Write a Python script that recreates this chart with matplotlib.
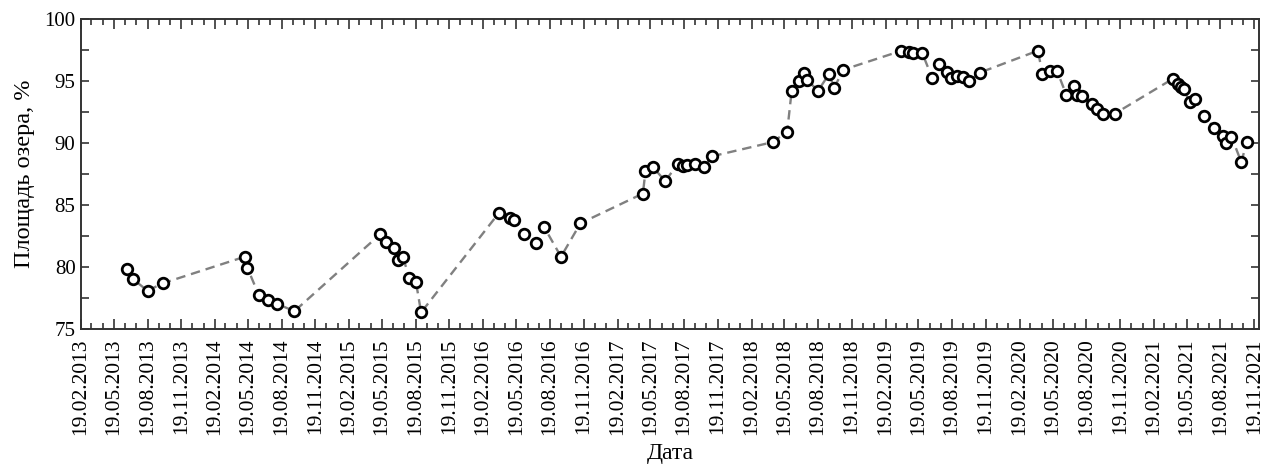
import matplotlib
matplotlib.use('Agg')
import matplotlib.pyplot as plt
import matplotlib.dates as mdates
import matplotlib.ticker as mticker
import pandas as pd

dates = [
    '2013-06-25', '2013-07-10', '2013-08-19', '2013-09-29',
    '2014-05-11', '2014-05-18', '2014-06-18', '2014-07-13', '2014-08-06', '2014-09-23',
    '2015-05-14', '2015-05-31', '2015-06-22', '2015-07-03', '2015-07-15', '2015-08-02',
    '2015-08-20', '2015-09-03',
    '2016-04-01', '2016-05-02', '2016-05-14', '2016-06-10', '2016-07-12', '2016-08-03',
    '2016-09-18', '2016-11-10',
    '2017-04-29', '2017-05-06', '2017-05-26', '2017-06-29', '2017-08-02', '2017-08-15',
    '2017-08-28', '2017-09-17', '2017-10-12', '2017-11-02',
    '2018-04-17', '2018-05-27', '2018-06-08', '2018-06-29', '2018-07-11', '2018-07-21',
    '2018-08-19', '2018-09-18', '2018-10-02', '2018-10-27',
    '2019-04-02', '2019-04-24', '2019-05-04', '2019-05-30', '2019-06-26', '2019-07-14',
    '2019-08-06', '2019-08-15', '2019-09-01', '2019-09-18', '2019-10-04', '2019-11-02',
    '2020-04-09', '2020-04-21', '2020-05-12', '2020-05-31', '2020-06-25', '2020-07-17',
    '2020-07-23', '2020-08-06', '2020-09-02', '2020-09-17', '2020-10-03', '2020-11-04',
    '2021-04-12', '2021-04-25', '2021-05-03', '2021-05-11', '2021-05-27', '2021-06-11',
    '2021-07-04', '2021-08-02', '2021-08-25', '2021-09-04', '2021-09-18', '2021-10-15',
    '2021-10-29',
]

# Lake area, %
area = [
    79.8, 79.0, 78.05, 78.65,
    80.8, 79.9, 77.7, 77.3, 77.0, 76.4,
    82.6, 82.0, 81.5, 80.5, 80.8, 79.1,
    78.75, 76.3,
    84.3, 83.9, 83.75, 82.65, 81.9, 83.2,
    80.8, 83.5,
    85.9, 87.7, 88.05, 86.9, 88.3, 88.15,
    88.2, 88.3, 88.05, 88.9,
    90.05, 90.9, 94.15, 95.0, 95.6, 95.05,
    94.2, 95.55, 94.45, 95.9,
    97.42, 97.31, 97.23, 97.23, 95.23, 96.34,
    95.74, 95.23, 95.37, 95.34, 94.97, 95.66,
    97.44, 95.53, 95.8, 95.8, 93.89, 94.59,
    93.86, 93.75, 93.16, 92.75, 92.3, 92.35,
    95.18, 94.73, 94.53, 94.35, 93.27, 93.51,
    92.19, 91.22, 90.57, 90.0, 90.49, 88.42,
    90.06,
]

x = pd.to_datetime(dates)

plt.rcParams['font.family'] = ['Liberation Serif', 'DejaVu Serif']

fig = plt.figure(figsize=(12.67, 4.68), dpi=100)
ax = fig.add_axes([0.064, 0.298, 0.930, 0.6615])

ax.plot(x, area, color='#808080', linestyle='--', linewidth=1.7, dashes=(4, 2.5), zorder=2)
ax.plot(x, area, linestyle='none', marker='o', markersize=7.6,
        markerfacecolor='white', markeredgecolor='black', markeredgewidth=2.0, zorder=3)

ax.set_xlim(pd.Timestamp('2013-02-19'), pd.Timestamp('2021-12-03'))
ax.set_ylim(75, 100)

ax.xaxis.set_major_locator(mdates.MonthLocator(bymonth=(2, 5, 8, 11), bymonthday=19))
ax.xaxis.set_minor_locator(mdates.MonthLocator(bymonthday=19))
ax.xaxis.set_major_formatter(mdates.DateFormatter('%d.%m.%Y'))
ax.yaxis.set_major_locator(mticker.MultipleLocator(5))
ax.yaxis.set_minor_locator(mticker.MultipleLocator(2.5))

ax.tick_params(which='both', direction='in', top=True, right=True, color='#333333')
ax.tick_params(axis='x', which='major', length=7, width=1.2, pad=7, labelsize=15.5,
               labelrotation=90)
ax.tick_params(axis='x', which='minor', length=4, width=1.2)
ax.tick_params(axis='y', which='both', length=6, width=1.2, pad=4, labelsize=15)

for s in ax.spines.values():
    s.set_linewidth(1.4)
    s.set_color('#333333')

ax.set_xlabel('Дата', fontsize=17, labelpad=6)
ax.set_ylabel('Площадь озера, %', fontsize=17.5, labelpad=7)

fig.savefig('out.png', dpi=100)
